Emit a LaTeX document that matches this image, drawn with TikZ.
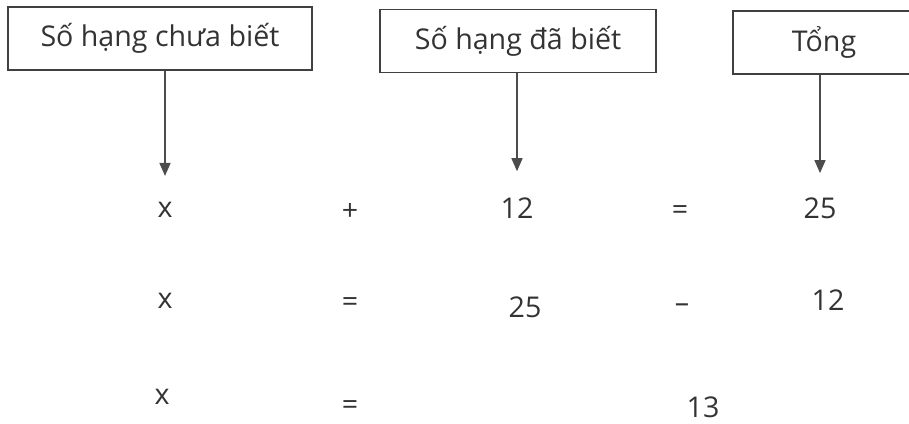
\documentclass[tikz,border=0pt]{standalone}
\usepackage{fontspec}
\setmainfont{Open Sans}
\usepackage{tikz}
\usetikzlibrary{arrows.meta}

\begin{document}
\begin{tikzpicture}[x=0.5pt,y=-0.5pt,font=\fontsize{14.3}{16}\selectfont,
  lbl/.style={draw=black!75,line width=0.8pt,text=black!80,minimum height=31.5pt,inner sep=0pt},
  term/.style={text=black!80,inner sep=0pt},
  arr/.style={draw=black!70,line width=0.7pt,-{Triangle[width=5.5pt,length=6.5pt]}}]
  \useasboundingbox (0,0) rectangle (909,423);
  \node[lbl,minimum width=152pt] (unk) at (160,38.5) {Số hạng chưa biết};
  \node[lbl,minimum width=138pt] (kno) at (518,41) {Số hạng đã biết};
  \node[lbl,minimum width=91pt] (sum) at (824,42.5) {Tổng};
  \node[term] (x1) at (165,210) {x};
  \node[term] (p1) at (350,212) {+};
  \node[term] (a1) at (517,208) {12};
  \node[term] (e1) at (680,213) {=};
  \node[term] (s1) at (820,208) {25};
  \node[term] (x2) at (165,301) {x};
  \node[term] (e2) at (350,305) {=};
  \node[term] (a2) at (525,307) {25};
  \node[term] (m2) at (682,308) {–};
  \node[term] (s2) at (828,300) {12};
  \node[term] (x3) at (162,397) {x};
  \node[term] (e3) at (350,408) {=};
  \node[term] (r3) at (703,407) {13};
  \draw[arr,shorten >=13pt] (unk.south -| x1) -- (x1.north);
  \draw[arr,shorten >=13pt] (kno.south -| a1) -- (a1.north);
  \draw[arr,shorten >=12pt] (sum.south -| s1) -- (s1.north);
\end{tikzpicture}
\end{document}
